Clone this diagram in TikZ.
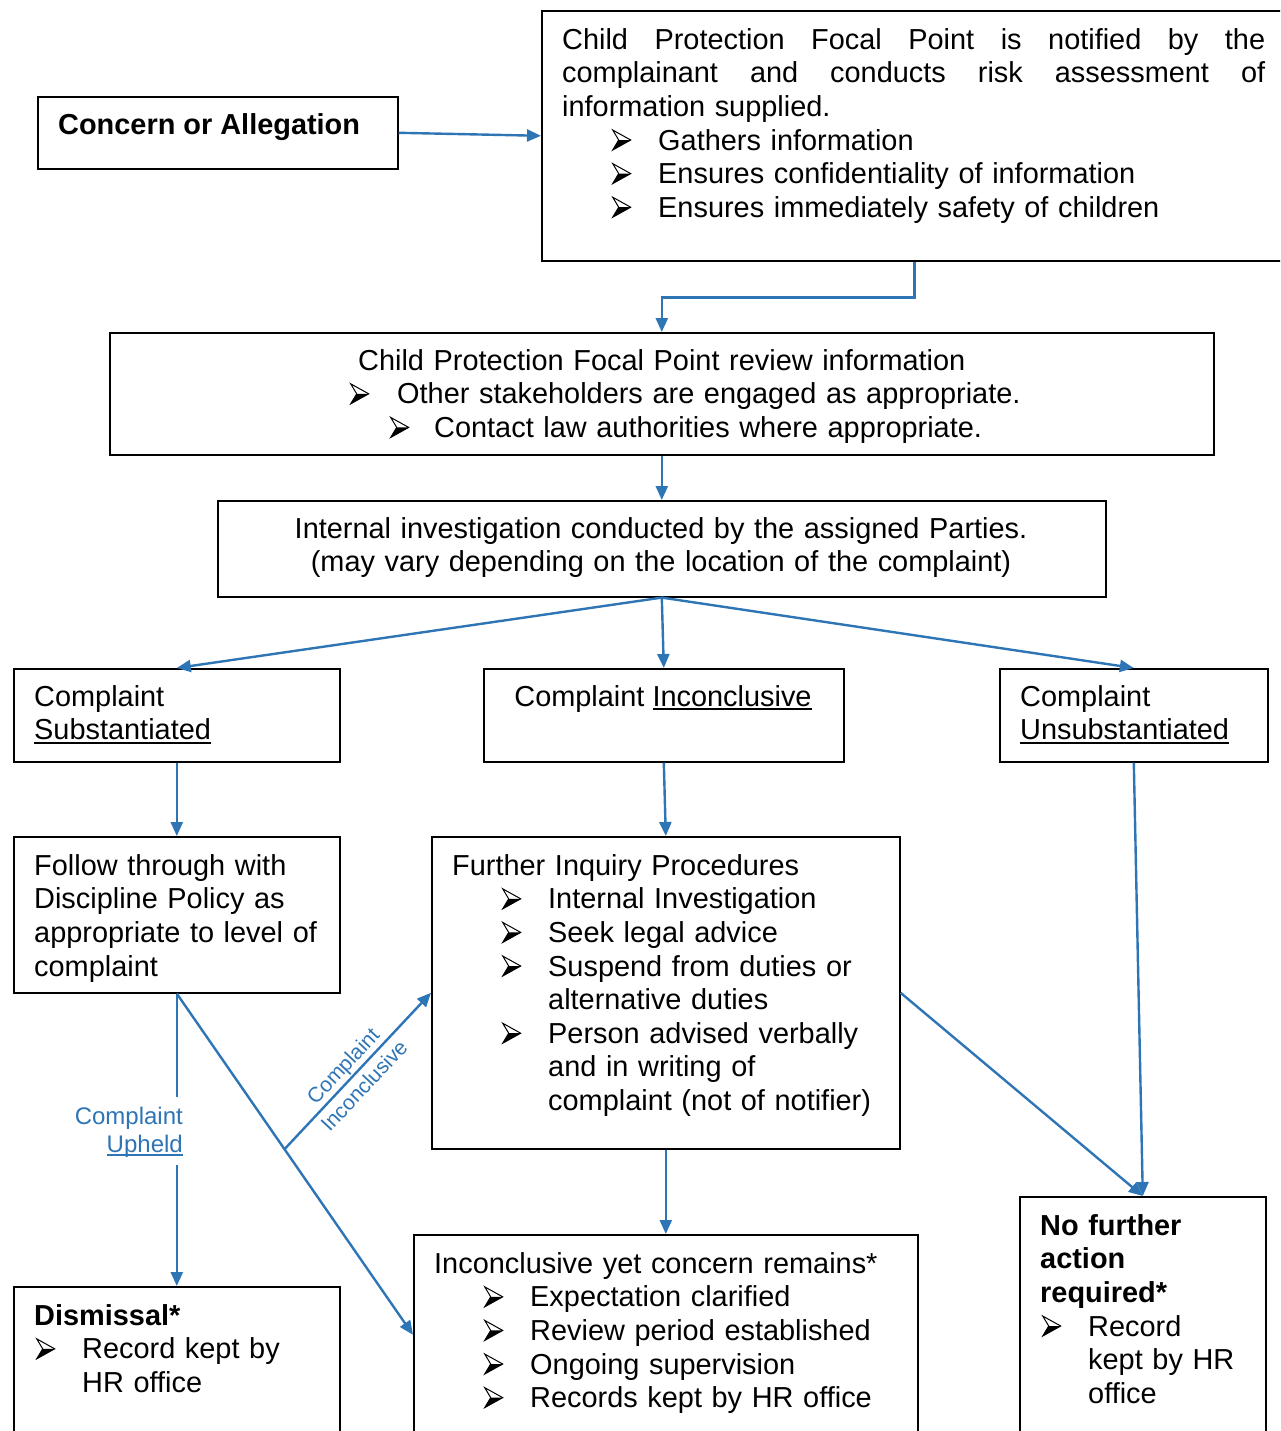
\documentclass[tikz,border=0pt]{standalone}
\usepackage{fontspec}
\setmainfont{Liberation Sans}
\usetikzlibrary{arrows.meta,calc}
\definecolor{ablue}{HTML}{2E75B6}
\newcommand\fs{\fontsize{28.9}{33.6}\selectfont}
\newcommand\bul{\tikz[baseline=0pt,x=1pt,y=1pt,line width=1pt,line join=miter]{\fill[black] (6,10)--(18,10)--(0,0)--cycle; \draw[black] (0,20)--(18,10)--(0,0)--(6,10)--cycle;}}
\newcommand\bitem{\makebox[46pt][l]{\bul}}
\newcommand\myul[1]{\leavevmode\setbox0\hbox{#1}\rlap{\rule[-0.14em]{\wd0}{0.075em}}\box0}
\newcommand\jl[1]{\makebox[703pt][l]{#1}}
\begin{document}
\begin{tikzpicture}[x=1pt,y=-1pt,
  box/.style={draw, line width=1.6pt, inner sep=0pt, anchor=north west},
  txt/.style={inner sep=0pt, anchor=north west, align=left, font=\fs},
  arr/.style={ablue, line width=2.4pt, -{Triangle[length=14pt,width=12pt]}},
  lbl/.style={text=ablue, inner sep=0pt}]
\useasboundingbox (0,0) rectangle (1280,1431);
\clip (0,0) rectangle (1280,1431);
% boxes
\node[box, minimum width=360pt, minimum height=72pt] (conc) at (37,96) {};
\node[box, minimum width=745pt, minimum height=250pt] (cpn) at (541,10) {};
\node[box, minimum width=1104pt, minimum height=122pt] (rev) at (109,332) {};
\node[box, minimum width=888pt, minimum height=96pt] (inv) at (217,500) {};
\node[box, minimum width=326pt, minimum height=93pt] (sub) at (13,668) {};
\node[box, minimum width=360pt, minimum height=93pt] (inc) at (483,668) {};
\node[box, minimum width=268pt, minimum height=93pt] (uns) at (999,668) {};
\node[box, minimum width=326pt, minimum height=156pt] (fol) at (13,836) {};
\node[box, minimum width=468pt, minimum height=312pt] (fur) at (431,836) {};
\node[box, minimum width=326pt, minimum height=160pt] (dis) at (13,1286) {};
\node[box, minimum width=504pt, minimum height=200pt] (iyc) at (413,1234) {};
\node[box, minimum width=246pt, minimum height=250pt] (nfa) at (1019,1196) {};
% texts
\node[txt] (concT) at (58,110.5) {\strut\textbf{Concern or Allegation}};
\node[txt, text width=720pt] (cpnT) at (562,25.5) {\strut\jl{Child\hfill Protection\hfill Focal\hfill Point\hfill is\hfill notified\hfill by\hfill the}\\
\jl{complainant\hfill and\hfill conducts\hfill risk\hfill assessment\hfill of}\\
information supplied.\\
\hspace*{50pt}\bitem Gathers information\\
\hspace*{50pt}\bitem Ensures confidentiality of information\\
\hspace*{50pt}\bitem Ensures immediately safety of children};
\node[txt, text width=900pt] (revT) at (350,346.5) {\strut\hspace*{8pt}Child Protection Focal Point review information\\
\makebox[47pt][l]{\bul}Other stakeholders are engaged as appropriate.\\
\hspace*{40pt}\makebox[44pt][l]{\bul}Contact law authorities where appropriate.};
\node[txt, anchor=north, align=center, text width=880pt] (invT) at (661,514.5) {\strut Internal investigation conducted by the assigned Parties.\\
(may vary depending on the location of the complaint)};
\node[txt, text width=300pt] (subT) at (34,682.5) {\strut Complaint\\ \myul{Substantiated}};
\node[txt, anchor=north, align=center] (incT) at (663,682.5) {\strut Complaint \myul{Inconclusive}};
\node[txt, text width=250pt] (unsT) at (1020,682.5) {\strut Complaint\\ \myul{Unsubstantiated}};
\node[txt, text width=310pt] (folT) at (34,851.5) {\strut Follow through with\\ Discipline Policy as\\ appropriate to level of\\ complaint};
\node[txt, text width=450pt] (furT) at (452,851.5) {\strut Further Inquiry Procedures\\
\hspace*{50pt}\bitem Internal Investigation\\
\hspace*{50pt}\bitem Seek legal advice\\
\hspace*{50pt}\bitem Suspend from duties or\\
\hspace*{96pt}alternative duties\\
\hspace*{50pt}\bitem Person advised verbally\\
\hspace*{96pt}and in writing of\\
\hspace*{96pt}complaint (not of notifier)};
\node[txt, text width=310pt] (disT) at (34,1301.5) {\strut\textbf{Dismissal*}\\
\hspace*{2pt}\bitem Record kept by\\
\hspace*{48pt}HR office};
\node[txt, text width=490pt] (iycT) at (434,1249.5) {\strut Inconclusive yet concern remains*\\
\hspace*{50pt}\bitem Expectation clarified\\
\hspace*{50pt}\bitem Review period established\\
\hspace*{50pt}\bitem Ongoing supervision\\
\hspace*{50pt}\bitem Records kept by HR office};
\node[txt, text width=230pt] (nfaT) at (1040,1211.5) {\strut\textbf{No further}\\ \textbf{action}\\ \textbf{required*}\\
\hspace*{2pt}\bitem Record\\
\hspace*{48pt}kept by HR\\
\hspace*{48pt}office};
% connectors
\coordinate (split) at ($(fol.south)!0.456!(iyc.west)$);
\draw[arr] (conc.east) -- (cpn.west);
\draw[arr] (cpn.south) -- ++(0,36) -| (rev.north);
\draw[arr] (rev.south) -- (inv.north);
\draw[arr] (inv.south) -- (sub.north);
\draw[arr] (inv.south) -- (inc.north);
\draw[arr] (inv.south) -- (uns.north);
\draw[arr] (sub.south) -- (fol.north);
\draw[arr] (inc.south) -- (fur.north);
\draw[arr] (uns.south) -- (nfa.north);
\draw[arr] (fur.east) -- (nfa.north);
\draw[arr] (fur.south) -- (iyc.north);
\draw[arr] (fol.south) -- (dis.north);
\draw[arr] (fol.south) -- (iyc.west);
\draw[arr] (split) -- (fur.west) node[lbl, pos=0.47, sloped, align=center, font=\fontsize{21}{29}\selectfont] (incL) {Complaint\\Inconclusive};
\node[lbl, fill=white, inner xsep=2pt, inner ysep=8pt, anchor=north east, align=right, font=\fontsize{24}{28}\selectfont] (uphL) at (185,1096.4) {\strut Complaint\\ \myul{Upheld}};
\end{tikzpicture}
\end{document}
